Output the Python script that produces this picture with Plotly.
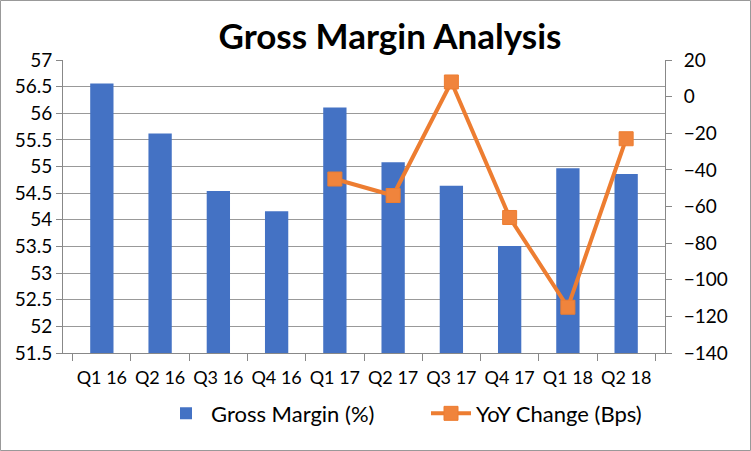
import plotly.graph_objects as go

quarters = ["Q1 16", "Q2 16", "Q3 16", "Q4 16", "Q1 17", "Q2 17", "Q3 17", "Q4 17", "Q1 18", "Q2 18"]
gross_margin = [56.56, 55.62, 54.54, 54.16, 56.11, 55.08, 54.64, 53.51, 54.97, 54.86]
yoy_change = [None, None, None, None, -45, -54, 8, -66, -115, -23]

FONT = "Lato"

fig = go.Figure()
fig.add_trace(go.Bar(
    x=quarters, y=gross_margin, name="Gross Margin (%)",
    marker=dict(color="#4472C4", line=dict(width=0)),
    yaxis="y",
))
fig.add_trace(go.Scatter(
    x=quarters, y=yoy_change, name="YoY Change (Bps)",
    mode="lines+markers",
    line=dict(color="#ED7D31", width=4),
    marker=dict(symbol="square", size=14, color="#F0843C", line=dict(color="#ED7D31", width=1)),
    yaxis="y2",
))

L, R, T, B = 63, 86, 60, 98
W, H = 751, 451
pw, ph = W - L - R, H - T - B

fig.update_layout(
    width=W, height=H,
    margin=dict(l=L, r=R, t=T, b=B, autoexpand=False),
    paper_bgcolor="white", plot_bgcolor="white",
    font=dict(family=FONT, color="black", size=18),
    title=dict(text="<b>Gross Margin Analysis</b>", x=390 / W, xanchor="center",
               y=1 - 37 / H, yanchor="middle", font=dict(size=35, family=FONT)),
    bargap=0.6,
    showlegend=True,
    legend=dict(orientation="h", x=(426 - L) / pw, xanchor="center", y=-0.135, yanchor="top",
                font=dict(size=22), itemwidth=40, traceorder="normal",
                entrywidth=210, entrywidthmode="pixels"),
    xaxis=dict(showline=True, linecolor="#888888", linewidth=1, ticks="outside", ticklen=7,
               tickcolor="#888888", tickson="boundaries", tickfont=dict(size=18), tickangle=0,
               ticklabelstandoff=8, showgrid=False),
    yaxis=dict(range=[51.5, 57], dtick=0.5, showline=True, linecolor="#888888", linewidth=1,
               ticks="outside", ticklen=6, tickcolor="#888888", showgrid=True, gridcolor="#999999",
               gridwidth=1, zeroline=False, tickfont=dict(size=19)),
    yaxis2=dict(range=[-140, 20], dtick=20, overlaying="y", side="right", showline=True,
                linecolor="#888888", linewidth=1, ticks="outside", ticklen=6, tickcolor="#888888",
                ticklabelstandoff=8, showgrid=False, zeroline=False, tickfont=dict(size=19)),
    shapes=[dict(type="rect", xref="paper", yref="paper",
                 x0=(0.5 - L) / pw, x1=(W - 0.5 - L) / pw,
                 y0=(ph + T - (H - 0.5)) / ph, y1=(ph + T - 0.5) / ph,
                 line=dict(color="#999999", width=1), layer="below")],
)

fig.write_html("out.html", config={"displayModeBar": False},
               post_script="document.body.style.margin='0px';")
